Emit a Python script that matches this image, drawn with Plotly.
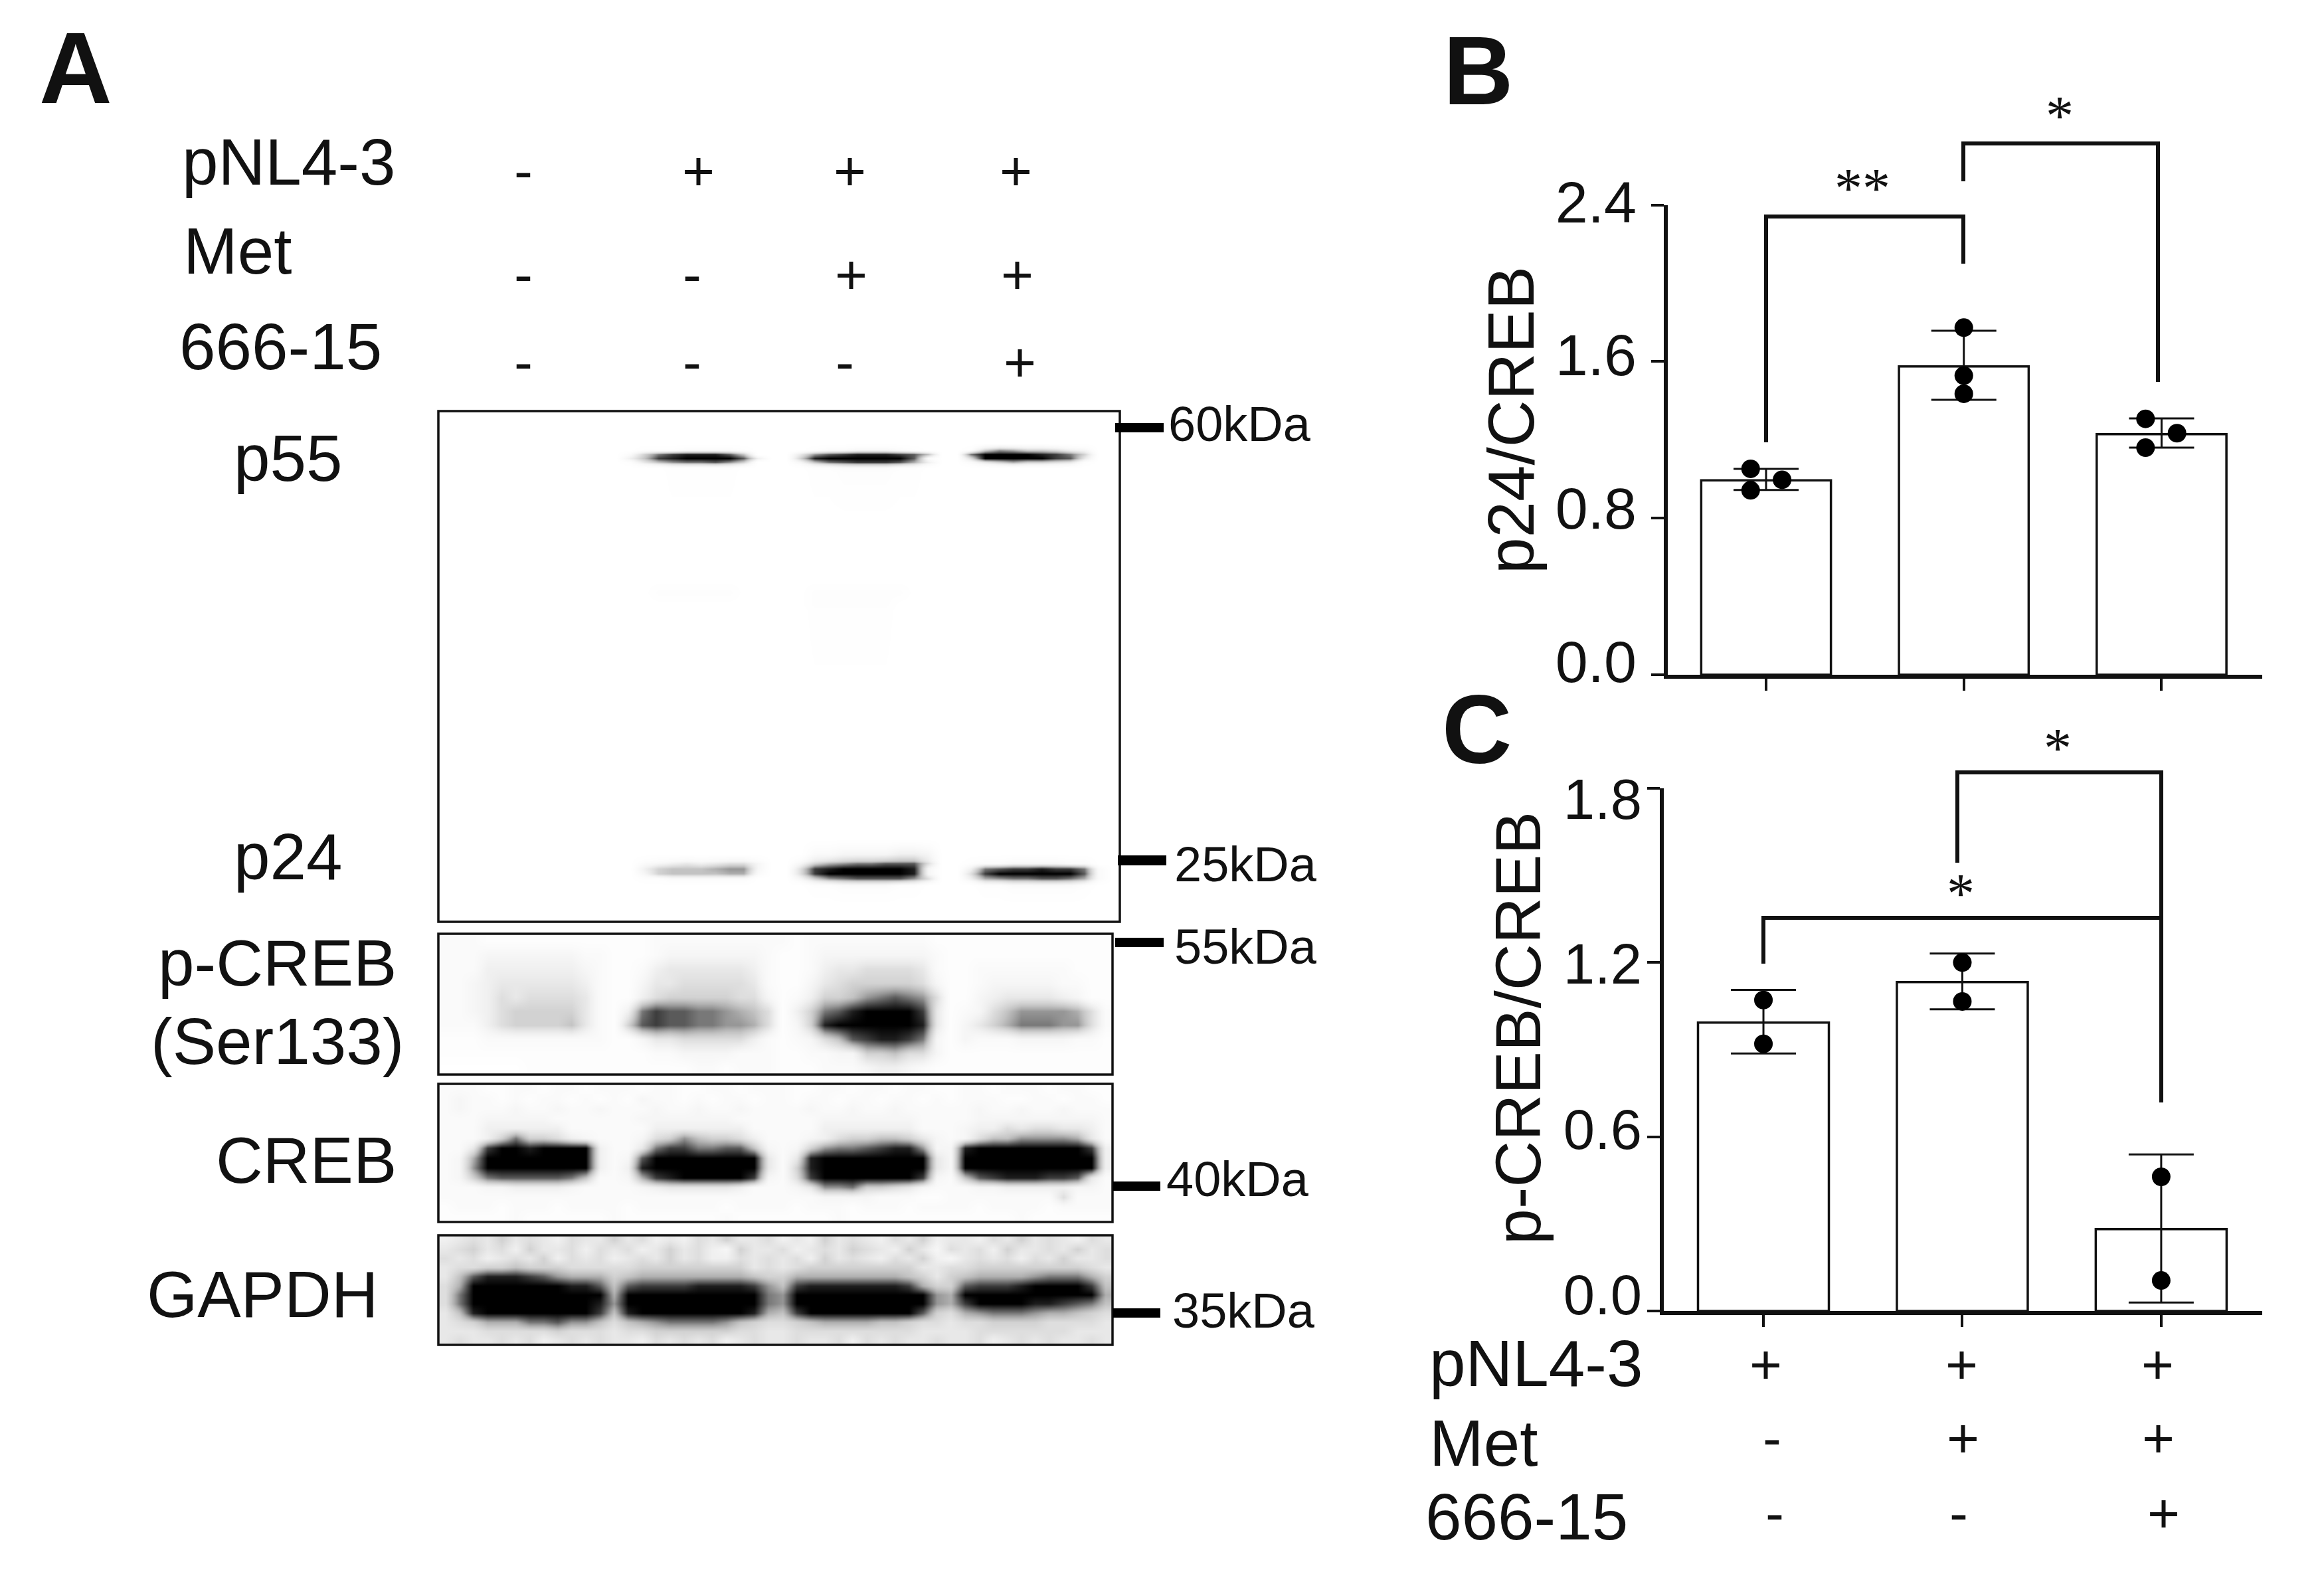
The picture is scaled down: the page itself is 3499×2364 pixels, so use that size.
import numpy as np
import plotly.graph_objects as go

W, H = 3499, 2364
FONT = "Liberation Sans"

# ---------- Panel B ----------
groups = [0, 1, 2]
b_means = [0.993, 1.575, 1.229]
b_err_up = [0.059, 0.182, 0.080]
b_err_down = [0.049, 0.171, 0.069]
b_pts_x = [-0.078, -0.078, 0.081, 0, 0, 0, -0.081, -0.081, 0.078]
b_pts_group = [0, 0, 0, 1, 1, 1, 2, 2, 2]
b_pts_y = [1.052, 0.942, 0.996, 1.773, 1.528, 1.435, 1.307, 1.160, 1.234]
b_ticks = [0.0, 0.8, 1.6, 2.4]
b_ticktext = ["0.0", "0.8", "1.6", "2.4"]

# ---------- Panel C ----------
c_means = [0.993, 1.133, 0.282]
c_err_up = [0.113, 0.098, 0.257]
c_err_down = [0.106, 0.094, 0.253]
c_pts_group = [0, 0, 1, 1, 2, 2]
c_pts_y = [1.071, 0.920, 1.200, 1.066, 0.462, 0.105]
c_ticks = [0.0, 0.6, 1.2, 1.8]
c_ticktext = ["0.0", "0.6", "1.2", "1.8"]

# ---------- Blots: hand-read grey levels, 0 = black ... f = white ----------
grey_levels = [0, 30, 60, 90, 120, 150, 175, 195, 210, 222, 232, 240, 246, 250, 253, 255]

main_row_edges = [619, 661, 674, 681, 687, 693, 699, 710, 865, 883, 901, 919, 1250, 1275, 1296, 1304, 1312, 1319, 1327, 1340, 1388]
main_rows = [
    "ffffff ffffff ffffff ffffff ffffff ffffff ffffff ffffff",
    "ffffff ffffff ffffff ffffff ffffff ffffff ffffff ffffff",
    "ffffff ffffff ffeeed dddeff ffeddc ccdeff fe8568 89bcff",
    "ffffff ffffff fd8421 1137ff fa5321 11237f f40000 1248ff",
    "ffffff ffffff fb7210 0003bf f81000 0003df f90000 023aff",
    "ffffff ffffff fea754 4358ff fc7432 2236bf fda868 89aeff",
    "ffffff ffffff ffffee eeefff ffeedd ddeeff ffffff ffffff",
    "ffffff ffffff ffffff ffffff ffffff ffffff ffffff ffffff",
    "ffffff ffffff ffffff ffffff ffffff ffffff ffffff ffffff",
    "ffffff ffffff fffeee eeefff ffeeee eeefff ffffff ffffff",
    "ffffff ffffff ffffff ffffff ffeeee eeffff ffffff ffffff",
    "ffffff ffffff ffffff ffffff ffffff ffffff ffffff ffffff",
    "ffffff ffffff ffffff ffffff ffffff ffffff ffffff ffffff",
    "ffffff ffffff ffffff ffffff ffddcc ccbbcf ffffff ffffff",
    "ffffff ffffff ffdcba ba99cf fc8654 43339f feddcc ccddff",
    "ffffff ffffff ffb877 7655cf f92100 0001cf fb4322 1224df",
    "ffffff ffffff ffc877 7766df f92000 0001cf f92000 0003df",
    "ffffff ffffff ffeedd ddddff fc8543 33359f fb6544 3346df",
    "ffffff ffffff ffffff ffffff ffeedd ddeeff ffeedd dddeff",
    "ffffff ffffff ffffff ffffff ffffff ffffff ffffff ffffff",
]

pcreb_rows = [
    "dddeee eeeeee eeeddd dddddd dedddd ddddde eeeeee eeeeee",
    "dddccc ccccdd eeedcc cccccd eedccc cccccd eeeeee eeeeee",
    "dddbbb bbbbcd eedbaa aaaabd eedbaa 9999ad eedddd dddeee",
    "ddcbaa aaaabd eecaa9 9999ad eeca98 88889c eedccc ccddee",
    "ddcb9a 9999ad eeb988 88899c edb887 543459 eecbaa aabcee",
    "ddcb98 8888ad eb4233 445679 eb8431 00002a edc975 55569d",
    "dddb98 8887ad e83233 445569 ec8100 00001a eca864 44559d",
    "eeeddd dddddd eecaa9 9999bd edc973 21124c ecdddc cccdde",
    "eeeeee eeeeee eeeddc cccddd eeddcc 88799c eeeeee eeeeee",
    "ffffff eeeeee eeeeee ddeddd eeeddd cbbcde eeeeee eeeeee",
]

creb_rows = [
    "dddeed dedded ddedde eddedd deedde ddedde eddedd deddee",
    "dcdded eddede decdde dedded dedded dedded edddee ddedde",
    "dcdddc ddcddc dddcdd cddcdd ddcddc ddcddd ddcddc ddcddd",
    "dddccc ccdddd ddcccc cccddd dddccc ccccdd ddcccc cccccd",
    "dddbbb bbbddd dddbbb bbbbdd dddbbb bbbbdd dcbb9a 99aabd",
    "dddb84 889bcd ddc985 7889bd ddcb98 8778ac dc9775 5556ad",
    "dda200 10000b dda422 44337c dc8544 32115c c10000 00002b",
    "dc6000 00000b dc3000 00000a da1000 00000a c00000 00000b",
    "dc5000 00000b db1000 00000a d81000 00000a c00000 00000b",
    "dc8433 33347d dc6210 00002c d92000 00002c d73211 1223ad",
    "dddccb bbbcdd ddcbaa aaabdd dca554 889acd ddccbb bbbccd",
    "dddddd dddddd dddddd dddddd dddccc cdddee dddddd dd9ddd",
    "eddded ddeddd dedddd ddeddd deddde dddedd ddeddd dedddd",
    "eeeeed eeeeee deeeee eedeee eeeede eeeeee eeeeed eeeeee",
]

gapdh_rows = [
    "ba9a8a 9ab9aa 8a9bab 9a8aa9 bab8a9 ab9a8b aab9a8 a9ab9a",
    "a98a9b 8aa9b9 a9ba8a 9bc8aa 9ba9a8 9ab8ac 9a9b8a a9a8a9",
    "9a9ba9 a8b9a9 ba9a8a 9bb9a9 a9b8a9 ab9a8b ca9a9b 9a8aa9",
    "a99887 888999 998888 8888a9 a98888 8888aa 998888 88889a",
    "a73111 235666 876666 666678 866666 66678a 876666 544468",
    "960000 000113 732222 111125 721111 111268 832221 000027",
    "940000 000000 600000 000004 500000 000005 600000 000006",
    "940000 000001 500000 000004 500000 000005 620000 112347",
    "a71000 000002 710000 000016 720000 000038 965444 566789",
    "a98666 443557 976544 445789 987666 677899 a99888 89999a",
    "aaa999 998999 a99888 88899a a99999 9999aa aa9999 999aaa",
    "a9aa9a 9ba9a9 aab9a9 a9ba9a a9aa9b 9a9aa9 aa9ba9 a9aa9a",
]


def parse(rows):
    grid = [[int(ch, 16) for ch in r.replace(" ", "")] for r in rows]
    assert all(len(g) == 48 for g in grid), [len(g) for g in grid]
    return grid


grey_scale = [[i / 15, f"rgb({g},{g},{g})"] for i, g in enumerate(grey_levels)]


def px(x):
    return x / W


def py(y):
    return 1 - y / H


fig = go.Figure()

# ---------- blot images on a canvas axis measured in picture pixels ----------
blots = [
    (main_rows, 660, 1686, main_row_edges),
    (pcreb_rows, 660, 1675, list(np.linspace(1406, 1618, len(pcreb_rows) + 1))),
    (creb_rows, 660, 1675, list(np.linspace(1632, 1840, len(creb_rows) + 1))),
    (gapdh_rows, 660, 1675, list(np.linspace(1860, 2025, len(gapdh_rows) + 1))),
]
shapes = []
for rows, x0, x1, edges in blots:
    fig.add_trace(go.Heatmap(
        z=parse(rows), x=list(np.linspace(x0, x1, 49)), y=edges,
        zmin=0, zmax=15, colorscale=grey_scale, showscale=False,
        zsmooth="best", hoverinfo="skip", xaxis="x3", yaxis="y3"))
    shapes.append(dict(type="rect", xref="x3", yref="y3", x0=x0, x1=x1, y0=edges[0], y1=edges[-1],
                       line=dict(color="#111", width=3.5), fillcolor="rgba(0,0,0,0)"))

# marker size bars
for x0, x1, y0, y1 in [(1679, 1752, 637, 651), (1683, 1756, 1288, 1303), (1679, 1752, 1412, 1426),
                       (1676, 1747, 1779, 1793), (1676, 1747, 1970, 1984)]:
    shapes.append(dict(type="rect", xref="x3", yref="y3", x0=x0, x1=x1, y0=y0, y1=y1,
                       line=dict(width=0), fillcolor="black"))

# significance brackets
for pts in [[(2659, 666), (2659, 326), (2956, 326), (2956, 397)],
            [(2956, 273), (2956, 216), (3249, 216), (3249, 575)],
            [(2947, 1299), (2947, 1163), (3254, 1163), (3254, 1660)],
            [(2655, 1451), (2655, 1382), (3254, 1382)]]:
    path = "M " + " L ".join(f"{a},{b}" for a, b in pts)
    shapes.append(dict(type="path", xref="x3", yref="y3", path=path,
                       line=dict(color="#111", width=6), fillcolor="rgba(0,0,0,0)"))


# ---------- bars ----------
def panel(means, up, down, pts_group, pts_off, pts_y, ax, ay, label_ay, ticks, width):
    fig.add_trace(go.Bar(
        x=groups, y=means, width=width, xaxis=ax, yaxis=ay,
        marker=dict(color="white", line=dict(color="#111", width=3.5)),
        error_y=dict(type="data", symmetric=False, array=up, arrayminus=down,
                     color="#111", thickness=3, width=49),
        showlegend=False))
    fig.add_trace(go.Scatter(
        x=[g + o for g, o in zip(pts_group, pts_off)], y=pts_y, mode="markers",
        xaxis=ax, yaxis=ay, cliponaxis=False,
        marker=dict(color="black", size=28), showlegend=False))
    # carries the tick-label axis, which sits slightly apart from the tick marks in the source
    fig.add_trace(go.Scatter(x=[0] * len(ticks), y=ticks, mode="markers", xaxis=ax, yaxis=label_ay,
                             marker=dict(opacity=0, size=1), hoverinfo="skip", showlegend=False))


panel(b_means, b_err_up, b_err_down, b_pts_group, b_pts_x, b_pts_y, "x", "y", "y4", b_ticks, 0.656)
panel(c_means, c_err_up, c_err_down, c_pts_group, [0] * len(c_pts_y), c_pts_y, "x2", "y2", "y5", c_ticks, 0.658)


def xax(dom, rng):
    return dict(domain=dom, range=rng, tickvals=groups, showticklabels=False, ticks="outside",
                ticklen=18, tickwidth=4, tickcolor="#111", showline=True, linewidth=6, linecolor="#111",
                showgrid=False, zeroline=False, automargin=False)


def yax(dom, rng, vals):
    return dict(domain=dom, range=rng, tickvals=vals, showticklabels=False, ticks="outside", ticklen=19,
                tickwidth=4, tickcolor="#111", showline=True, linewidth=6, linecolor="#111",
                showgrid=False, zeroline=False, automargin=False)


def label_ax(dom, rng, vals, txt, anchor, standoff, size):
    return dict(domain=dom, range=rng, tickvals=vals, ticktext=txt, ticks="", anchor=anchor, showline=False,
                showgrid=False, zeroline=False, automargin=False, ticklabelstandoff=standoff,
                tickfont=dict(family=FONT, size=size, color="#111"))


# ---------- text ----------
def label(text, x, y, size=98, anchor="left", family=FONT, bold=False, angle=0):
    fig.add_annotation(text=f"<b>{text}</b>" if bold else text, x=px(x), y=py(y), xref="paper", yref="paper",
                       xanchor=anchor, yanchor="middle", showarrow=False, textangle=angle,
                       font=dict(family=family, size=size, color="#111"))


label("A", 114, 102, 152, "center", bold=True)
label("B", 2225, 107, 146, "center", bold=True)
label("C", 2223, 1098, 146, "center", bold=True)

for t, x, y in [("pNL4-3", 272, 244), ("Met", 274, 378), ("666-15", 268, 522),
                ("p55", 350, 690), ("p24", 350, 1290), ("p-CREB", 236, 1450), ("(Ser133)", 225, 1568),
                ("CREB", 323, 1747), ("GAPDH", 219, 1949),
                ("pNL4-3", 2150, 2053), ("Met", 2150, 2173), ("666-15", 2144, 2284)]:
    label(t, x, y)

for t, x, y in [("-", 788, 257), ("+", 1051, 257), ("+", 1279, 257), ("+", 1529, 257),
                ("-", 788, 413), ("-", 1042, 413), ("+", 1281, 413), ("+", 1531, 413),
                ("-", 788, 545), ("-", 1042, 545), ("-", 1272, 545), ("+", 1535, 545),
                ("+", 2658, 2054), ("+", 2953, 2054), ("+", 3248, 2054),
                ("-", 2668, 2165), ("+", 2955, 2165), ("+", 3249, 2165),
                ("-", 2672, 2278), ("-", 2949, 2278), ("+", 3257, 2278)]:
    label(t, x, y, 84, "center")

for t, x, y in [("60kDa", 1757, 638), ("25kDa", 1766, 1301), ("55kDa", 1766, 1425),
                ("40kDa", 1754, 1775), ("35kDa", 1763, 1973)]:
    label(t, x, y, 74)

for t, x, y in [("**", 2804, 284), ("*", 3101, 175), ("*", 3098, 1126), ("*", 2952, 1345)]:
    label(t, x, y, 84, "center", family="Liberation Serif")

label("p24/CREB", 2275, 633, 98, "center", angle=-90)
label("p-CREB/CREB", 2285, 1548, 97, "center", angle=-90)

fig.update_layout(
    template="none",
    width=W, height=H, margin=dict(l=0, r=0, t=0, b=0, pad=0), autosize=False,
    paper_bgcolor="white", plot_bgcolor="rgba(0,0,0,0)", showlegend=False, barmode="overlay",
    shapes=shapes,
    xaxis=dict(xax([px(2511), px(3406)], [-0.497, 2.509]), anchor="y"),
    yaxis=dict(yax([py(1016), py(308.5)], [0, 2.4], b_ticks), anchor="x"),
    xaxis2=dict(xax([px(2505), px(3406)], [-0.501, 2.508]), anchor="y2"),
    yaxis2=dict(yax([py(1974), py(1187)], [0, 1.8], c_ticks), anchor="x2"),
    xaxis3=dict(domain=[0, 1], range=[0, W], visible=False, anchor="y3", automargin=False),
    yaxis3=dict(domain=[0, 1], range=[H, 0], visible=False, anchor="x3", automargin=False),
    yaxis4=label_ax([py(996), py(304)], [0, 2.4], b_ticks, b_ticktext, "x", 46, 88),
    yaxis5=label_ax([py(1949), py(1203)], [0, 1.8], c_ticks, c_ticktext, "x2", 32, 85),
)

fig.write_html("out.html", post_script="document.body.style.margin='0';",
               config=dict(displayModeBar=False))
